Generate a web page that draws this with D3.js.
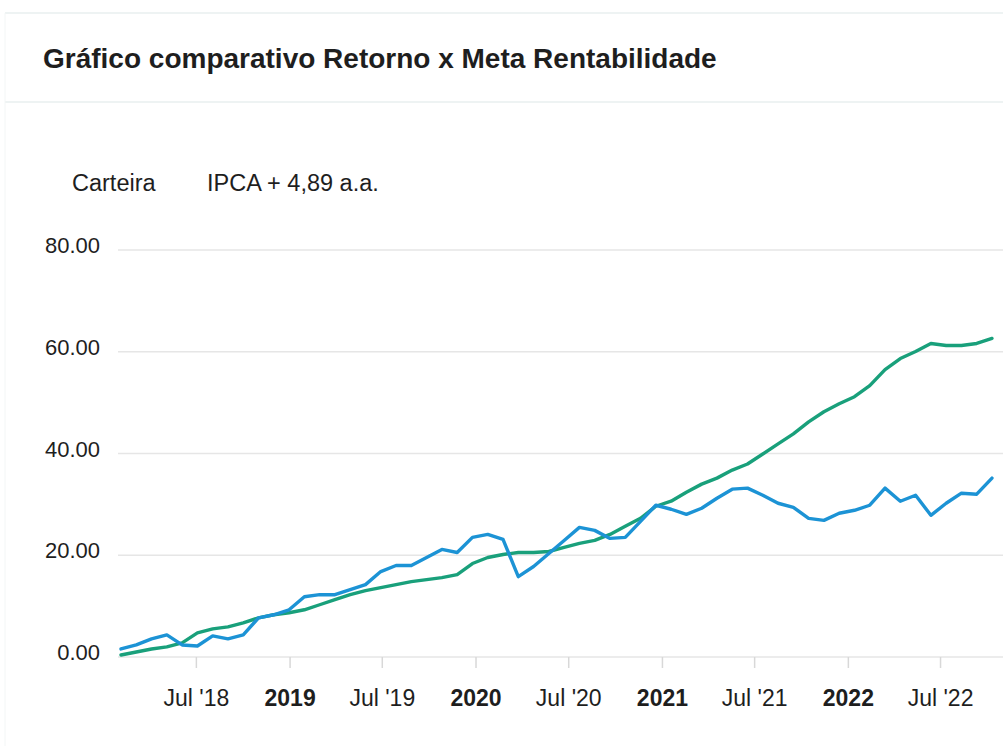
<!DOCTYPE html>
<html lang="pt-BR">
<head>
    <meta charset="UTF-8">
    <title>Retorno x Meta Rentabilidade</title>
    <script src="https://d3js.org/d3.v7.min.js"></script>
    <style>
        body {margin: 0; background: #fff;}
        text {font-family: "Liberation Sans", Arial, sans-serif; fill: #1e1e1e;}
    </style>
</head>
<body>
<script>
    const width = 1003;
    const height = 746;

    // dates of the points (one every 30 days)
    const dateStrings = [
        "2018-02-04","2018-03-06","2018-04-05","2018-05-05","2018-06-04","2018-07-04","2018-08-03","2018-09-02",
        "2018-10-02","2018-11-01","2018-12-01","2018-12-31","2019-01-30","2019-03-01","2019-03-31","2019-04-30",
        "2019-05-30","2019-06-29","2019-07-29","2019-08-28","2019-09-27","2019-10-27","2019-11-26","2019-12-26",
        "2020-01-25","2020-02-24","2020-03-25","2020-04-24","2020-05-24","2020-06-23","2020-07-23","2020-08-22",
        "2020-09-21","2020-10-21","2020-11-20","2020-12-20","2021-01-19","2021-02-18","2021-03-20","2021-04-19",
        "2021-05-19","2021-06-18","2021-07-18","2021-08-17","2021-09-16","2021-10-16","2021-11-15","2021-12-15",
        "2022-01-14","2022-02-13","2022-03-15","2022-04-14","2022-05-14","2022-06-13","2022-07-13","2022-08-12",
        "2022-09-11","2022-10-11"
    ];

    // Carteira (retorno acumulado, %)
    const carteira = [
        1.58, 2.37, 3.56, 4.35, 2.37, 2.17, 4.15, 3.56, 4.35, 7.70, 8.30,
        9.28, 11.85, 12.25, 12.25, 13.23, 14.22, 16.79, 17.98, 17.98, 19.56, 21.14, 20.54,
        23.51, 24.10, 23.11, 15.80, 17.78, 20.35, 22.91, 25.48, 24.89, 23.31, 23.51, 26.67,
        29.83, 29.04, 28.05, 29.23, 31.21, 32.99, 33.19, 31.80, 30.22, 29.43, 27.26, 26.86,
        28.25, 28.84, 29.83, 33.19, 30.62, 31.80, 27.85, 30.22, 32.20, 32.00, 35.16
    ];

    // IPCA + 4,89 a.a. (meta acumulada, %)
    const meta = [
        0.40, 0.99, 1.58, 1.98, 2.77, 4.74, 5.53, 5.93, 6.72, 7.70, 8.30,
        8.69, 9.28, 10.27, 11.26, 12.25, 13.04, 13.63, 14.22, 14.81, 15.21, 15.60, 16.20,
        18.37, 19.56, 20.15, 20.54, 20.54, 20.74, 21.53, 22.32, 22.91, 24.10, 25.68, 27.26,
        29.63, 30.62, 32.40, 33.98, 35.16, 36.74, 37.93, 39.90, 41.88, 43.85, 46.22, 48.20,
        49.78, 51.16, 53.33, 56.49, 58.67, 60.05, 61.63, 61.23, 61.23, 61.63, 62.62
    ];

    const seriesNames = ["Carteira", "IPCA + 4,89 a.a."];
    const seriesColors = ["#1c93d5", "#19a07b"];

    const yTicks = [0, 20, 40, 60, 80];
    const xTicks = ["2018-07-01","2019-01-01","2019-07-01","2020-01-01","2020-07-01","2021-01-01","2021-07-01","2022-01-01","2022-07-01"];
    const xTickLabels = ["Jul '18","2019","Jul '19","2020","Jul '20","2021","Jul '21","2022","Jul '22"];

    const parseDate = d3.timeParse("%Y-%m-%d");
    const dates = dateStrings.map(parseDate);

    const svg = d3.select("body").append("svg")
            .attr("width", width).attr("height", height);

    // card frame / header separators
    svg.append("line").attr("x1", 5).attr("x2", width).attr("y1", 13).attr("y2", 13)
            .style("stroke", "#e9efef").style("stroke-width", 1.5);
    svg.append("line").attr("x1", 5).attr("x2", width).attr("y1", 102).attr("y2", 102)
            .style("stroke", "#e9efef").style("stroke-width", 1.5);
    svg.append("line").attr("x1", 5).attr("x2", 5).attr("y1", 13).attr("y2", height)
            .style("stroke", "#f3f6f6").style("stroke-width", 1);

    svg.append("text")
            .attr("x", 43).attr("y", 68)
            .style("font-size", "28px").style("font-weight", "bold")
            .text("Gráfico comparativo Retorno x Meta Rentabilidade");

    // legend (text only, as in the reference)
    const legendX = [72, 207];
    svg.selectAll("text.legend")
            .data(seriesNames)
            .enter()
            .append("text")
            .attr("class", "legend")
            .attr("x", (d, i) => legendX[i])
            .attr("y", 191)
            .style("font-size", "23.5px")
            .text(d => d);

    const x = d3.scaleTime()
            .domain([dates[0], dates[dates.length - 1]])
            .range([121, 992]);
    const y = d3.scaleLinear().domain([0, 80]).range([657, 250]);

    // y grid + labels
    const yAxis = svg.append("g").attr("class", "y-axis");
    yAxis.selectAll("line")
            .data(yTicks)
            .enter()
            .append("line")
            .attr("x1", 118).attr("x2", width)
            .attr("y1", d => y(d)).attr("y2", d => y(d))
            .style("stroke", "#e6e6e6")
            .style("stroke-width", 1.5);
    yAxis.selectAll("text")
            .data(yTicks)
            .enter()
            .append("text")
            .attr("x", 100)
            .attr("y", d => y(d) + 3)
            .attr("text-anchor", "end")
            .style("font-size", "22px")
            .text(d => d3.format(".2f")(d));

    // x axis
    const xAxis = d3.axisBottom(x)
            .tickValues(xTicks.map(parseDate))
            .tickFormat((d, i) => xTickLabels[i])
            .tickSize(11)
            .tickPadding(22);
    const gx = svg.append("g")
            .attr("transform", `translate(0,${y(0)})`)
            .call(xAxis);
    gx.select(".domain").remove();
    gx.selectAll(".tick line").style("stroke", "#d8d8d8").style("stroke-width", 1.5);
    gx.selectAll(".tick text")
            .style("font-size", "23px")
            .style("font-family", '"Liberation Sans", Arial, sans-serif')
            .style("fill", "#1e1e1e")
            .style("font-weight", (d, i) => xTickLabels[i].startsWith("Jul") ? "normal" : "bold");

    // lines
    const line = d3.line()
            .x((d, i) => x(dates[i]))
            .y(d => y(d));

    svg.selectAll("path.series")
            .data([meta, carteira])
            .enter()
            .append("path")
            .attr("class", "series")
            .attr("d", line)
            .style("fill", "none")
            .style("stroke", (d, i) => i === 0 ? seriesColors[1] : seriesColors[0])
            .style("stroke-width", 3.4)
            .style("stroke-linejoin", "round")
            .style("stroke-linecap", "round");
</script>
</body>
</html>
